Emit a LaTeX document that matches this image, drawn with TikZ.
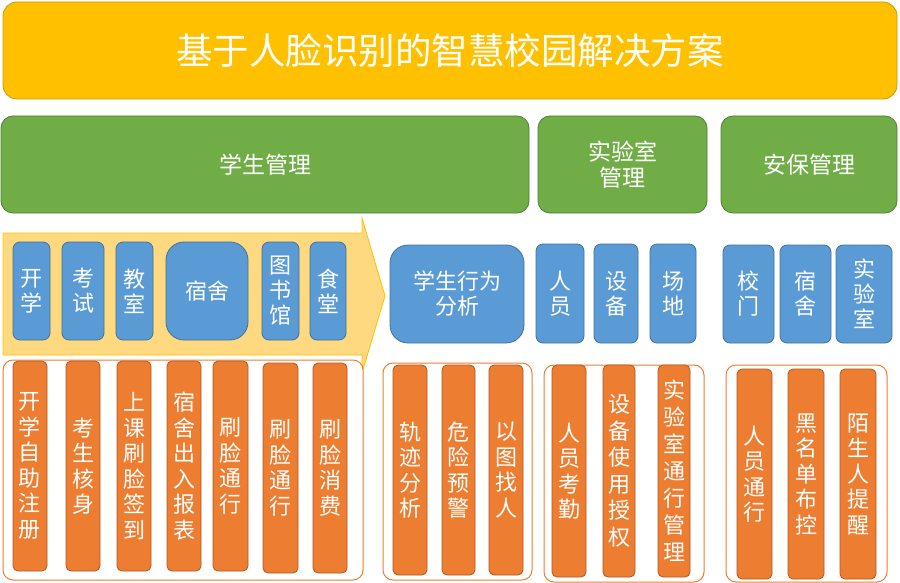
\documentclass[tikz,border=0pt]{standalone}
\usepackage{fontspec}
\setmainfont{Noto Sans CJK SC}
\definecolor{tyellow}{HTML}{FFC000}
\definecolor{tgreen}{HTML}{70AD47}
\definecolor{tgreenb}{HTML}{507E32}
\definecolor{tblue}{HTML}{5B9BD5}
\definecolor{tblueb}{HTML}{41719C}
\definecolor{torange}{HTML}{ED7D31}
\definecolor{torangeb}{HTML}{AE5A21}
\definecolor{tarrow}{HTML}{FFD97F}
\tikzset{
  titlebox/.style={fill=tyellow, draw=tyellow!80!black, line width=0.8pt, rounded corners=14pt, text=white, font={\fontsize{36.5}{42}\selectfont}},
  greenbox/.style={fill=tgreen, draw=tgreenb, line width=0.8pt, rounded corners=12pt, text=white, align=center, font={\fontsize{23}{26}\selectfont}},
  bluebox/.style={fill=tblue, draw=tblueb, line width=0.8pt, rounded corners=7pt, text=white, align=center, inner sep=0pt, font={\fontsize{22}{25}\selectfont}},
  bigblue/.style={bluebox, rounded corners=18pt},
  orangebar/.style={fill=torange, draw=torangeb, line width=0.8pt, rounded corners=5pt, text=white, align=center, inner sep=0pt, minimum width=34pt, minimum height=210pt, font={\fontsize{22}{25.5}\selectfont}},
  container/.style={draw=torange, line width=1pt, rounded corners=10pt, fill=white},
}
\begin{document}
\begin{tikzpicture}[x=1pt,y=-1pt]
\useasboundingbox (0,0) rectangle (900,583);
% title
\node[titlebox, minimum width=894pt, minimum height=97pt] (title) at (450,50.5) {基于人脸识别的智慧校园解决方案};
% green
\node[greenbox, minimum width=528pt, minimum height=97pt] (g1) at (265,164.5) {学生管理};
\node[greenbox, minimum width=169pt, minimum height=97pt] (g2) at (622.5,164.5) {实验室\\管理};
\node[greenbox, minimum width=176pt, minimum height=97pt] (g3) at (809,164.5) {安保管理};
% arrow
\draw[fill=tarrow, draw=tyellow, line width=0.8pt] (3,233) -- (362,233) -- (362,218) -- (385,296) -- (362,373) -- (362,355) -- (3,355) -- cycle;
% containers
\node[container, minimum width=360pt, minimum height=220pt] (c1) at (183,470) {};
\node[container, minimum width=149pt, minimum height=217pt] (c2) at (457.5,471.5) {};
\node[container, minimum width=160pt, minimum height=217pt] (c3) at (624,473.5) {};
\node[container, minimum width=161pt, minimum height=217pt] (c4) at (806.5,473.5) {};
% blue boxes
\node[bluebox, minimum width=37pt, minimum height=98pt] (b1) at (31.5,291) {开\\学};
\node[bluebox, minimum width=42pt, minimum height=98pt] (b2) at (83,291) {考\\试};
\node[bluebox, minimum width=37pt, minimum height=98pt] (b3) at (134.5,291) {教\\室};
\node[bigblue, minimum width=82pt, minimum height=98pt] (b4) at (207,291) {宿舍};
\node[bluebox, minimum width=37pt, minimum height=98pt] (b5) at (280.5,291) {图\\书\\馆};
\node[bluebox, minimum width=36pt, minimum height=98pt] (b6) at (328,291) {食\\堂};
\node[bigblue, minimum width=134pt, minimum height=98pt] (b7) at (457,294) {学生行为\\分析};
\node[bluebox, minimum width=48pt, minimum height=99pt] (b8) at (560,293.5) {人\\员};
\node[bluebox, minimum width=44pt, minimum height=99pt] (b9) at (616,293.5) {设\\备};
\node[bluebox, minimum width=46pt, minimum height=99pt] (b10) at (673,293.5) {场\\地};
\node[bluebox, minimum width=51pt, minimum height=98pt] (b11) at (748.5,294) {校\\门};
\node[bluebox, minimum width=51pt, minimum height=98pt] (b12) at (805.5,294) {宿\\舍};
\node[bluebox, minimum width=56pt, minimum height=98pt] (b13) at (864,294) {实\\验\\室};
% orange bars
\node[orangebar] (o1) at (30,466) {开\\学\\自\\助\\注\\册};
\node[orangebar] (o2) at (83,466) {考\\生\\核\\身};
\node[orangebar] (o3) at (134,466) {上\\课\\刷\\脸\\签\\到};
\node[orangebar] (o4) at (184,466) {宿\\舍\\出\\入\\报\\表};
\node[orangebar, minimum width=35pt] (o5) at (230.5,466) {刷\\脸\\通\\行};
\node[orangebar, minimum width=35pt] (o6) at (280.5,468) {刷\\脸\\通\\行};
\node[orangebar] (o7) at (330,468) {刷\\脸\\消\\费};
\node[orangebar] (o8) at (410,470) {轨\\迹\\分\\析};
\node[orangebar, minimum width=33pt] (o9) at (458.5,470) {危\\险\\预\\警};
\node[orangebar] (o10) at (506,470) {以\\图\\找\\人};
\node[orangebar, minimum height=212pt] (o11) at (569,471) {人\\员\\考\\勤};
\node[orangebar, minimum width=32pt, minimum height=212pt, font={\fontsize{22}{26.5}\selectfont}] (o12) at (619,471) {设\\备\\使\\用\\授\\权};
\node[orangebar, minimum width=32pt, minimum height=212pt, font={\fontsize{22}{27}\selectfont}] (o13) at (674,471) {实\\验\\室\\通\\行\\管\\理};
\node[orangebar, minimum width=35pt] (o14) at (754.5,474) {人\\员\\通\\行};
\node[orangebar, minimum width=36pt] (o15) at (806,474) {黑\\名\\单\\布\\控};
\node[orangebar, minimum width=36pt] (o16) at (858,474) {陌\\生\\人\\提\\醒};
\end{tikzpicture}
\end{document}
